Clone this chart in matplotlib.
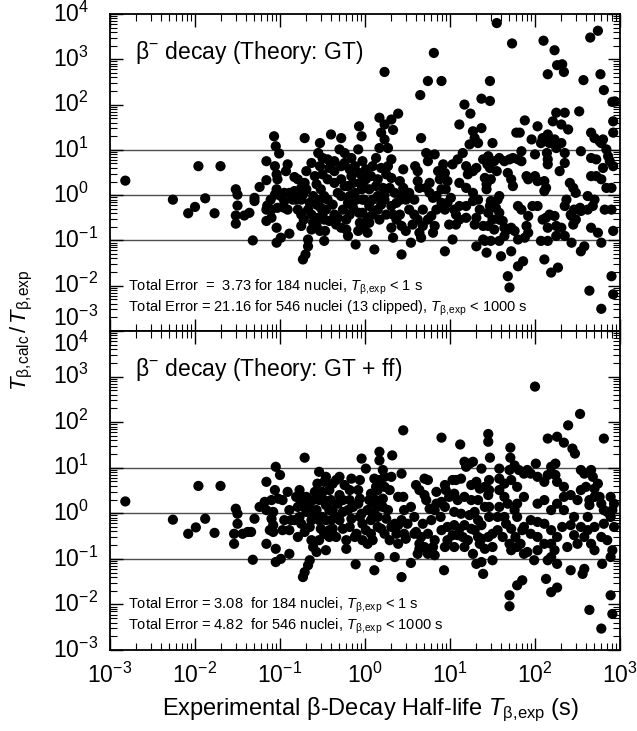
import numpy as np
import matplotlib
matplotlib.use("Agg")
import matplotlib.pyplot as plt
from matplotlib.ticker import LogLocator, NullFormatter
import matplotlib.transforms as mtransforms

plt.rcParams['font.family'] = ['Liberation Sans', 'DejaVu Sans']
plt.rcParams['mathtext.fontset'] = 'custom'
plt.rcParams['mathtext.rm'] = 'Liberation Sans'
plt.rcParams['mathtext.it'] = 'Liberation Sans:italic'
plt.rcParams['mathtext.bf'] = 'Liberation Sans:bold'

# ---------------- data (log10 values) ----------------
# Panel 1: Theory GT  -- log10(T_exp / s) and log10(T_calc / T_exp)
gt_log_t = [
    -2.82,-2.26,-2.08,-2.00,-1.88,-1.77,-1.96,-1.70,-1.52,-1.50,-1.50,-1.52,-1.52,
    -1.36,-1.42,-1.32,-1.30,-1.30,-1.24,-1.16,-1.16,-1.16,-1.15,
    -1.16,-1.11,-1.07,-1.05,-1.01,-1.06,-1.04,-1.03,-0.93,-1.04,
    -1.06,-1.10,-1.03,-0.95,-0.91,-1.04,-1.04,-0.99,-0.89,-0.99,
    -0.95,-0.91,-0.83,-0.79,-0.81,-0.79,-0.75,-0.72,-0.71,-0.63,
    -0.59,-0.69,-0.71,-0.69,-0.73,-0.65,-0.67,-0.63,-0.61,-0.63,
    -0.67,-0.67,-0.70,-0.73,-0.53,-0.55,-0.50,-0.53,-0.57,-0.52,
    -0.53,-0.57,-0.52,-0.55,-0.57,-0.53,-0.47,-0.40,-0.28,-0.30,
    -0.44,-0.36,-0.28,-0.36,-0.44,-0.36,-0.28,-0.24,-0.32,-0.44,
    -0.38,-0.46,-0.36,-0.42,-0.34,-0.26,-0.20,-0.22,-0.28,-0.24,
    -0.18,-0.16,-0.14,-0.12,-0.10,-0.14,-0.07,-0.04,-0.08,-0.03,
    -0.07,-0.01,-0.03,-0.07,-0.11,-0.22,
    -0.03,-0.04,0.01,-0.01,-0.03,0.03,-0.01,0.03,0.17,0.23,
    0.31,0.39,0.33,0.19,0.23,0.17,0.27,0.13,0.09,0.19,
    0.31,0.27,0.07,0.15,0.25,0.31,0.05,0.13,0.09,0.15,
    0.09,0.05,0.21,0.23,0.19,0.31,0.37,0.42,0.25,0.33,
    0.37,0.43,0.31,0.41,0.11,0.33,0.43,0.54,0.45,0.41,
    0.45,0.45,0.59,0.62,0.62,0.64,0.52,0.58,0.56,0.62,
    0.64,0.68,0.66,0.66,0.72,0.74,0.76,0.72,0.76,0.80,
    0.74,0.78,0.82,0.80,0.86,0.88,0.94,0.90,0.97,0.90,
    0.97,1.01,0.94,1.05,1.07,0.94,1.03,1.07,1.11,1.03,
    1.09,1.11,1.17,1.27,1.29,1.33,1.23,1.37,1.15,1.19,
    1.21,1.27,1.31,1.11,1.19,1.27,1.11,1.19,1.31,1.29,
    1.35,1.39,1.31,1.39,1.41,1.43,1.44,1.24,
    1.50,1.45,1.52,1.58,1.64,1.70,1.74,1.80,1.84,1.47,
    1.55,1.43,1.48,1.58,1.56,1.48,1.54,1.58,1.45,1.50,
    1.58,1.62,1.64,1.68,1.76,1.72,1.45,1.41,1.48,1.58,
    1.43,1.60,1.72,1.68,1.70,1.68,1.72,1.74,1.80,1.84,
    1.78,1.82,1.88,1.96,2.03,1.84,1.88,1.90,1.92,1.80,
    1.86,1.90,1.92,2.00,2.03,1.97,2.03,2.00,2.07,2.09,
    2.15,2.17,2.23,2.25,2.31,2.14,2.15,2.15,2.11,2.13,
    2.11,2.09,2.13,2.17,2.23,2.15,2.25,2.07,2.15,2.25,
    2.31,2.35,2.11,2.19,2.27,2.21,2.25,2.35,2.31,2.39,
    2.29,2.35,2.37,2.35,2.45,2.41,2.48,2.42,2.46,2.48,
    2.45,2.43,2.54,2.58,2.62,2.53,2.54,2.62,2.68,2.66,
    2.74,2.54,2.66,2.72,2.66,2.70,2.76,2.78,2.52,2.66,
    2.72,2.78,2.84,2.90,2.80,2.84,2.86,2.88,2.92,2.78,
    2.64,2.78,2.90,2.92,2.90,2.92,2.92,2.92,2.94,
    1.55,1.73,2.10,2.23,2.65,2.74,0.81,0.23,2.15,2.26,2.32,2.34,0.74,0.90,0.65,
    1.47,1.37,1.47,2.57,2.77,2.81,2.91,
    -0.75,-0.61,-0.48,-0.50,-0.42,-0.50,-0.28,-0.20,-0.18,-0.24,
    -0.16,-0.12,-0.06,-0.18,-0.32,-0.48,-0.75,-0.83,-0.89,-0.85,
    -0.95,-1.10,-0.75,-0.06,-0.08,-0.20,-0.48,
    0.01,0.05,0.15,0.17,0.23,0.29,0.35,0.48,0.52,0.58,
    0.68,0.48,0.84,0.84,0.95,0.92,0.82,0.99,1.19,1.33,
    1.27,1.39,
    1.47,1.52,1.64,1.80,1.92,2.21,2.35,2.43,2.70,2.82,2.80,
]
gt_log_ratio = [
    0.32,-0.10,-0.40,-0.26,-0.07,-0.40,0.64,0.64,0.13,0.01,-0.23,-0.45,-0.63,
    -0.39,-0.45,-1.00,-0.06,-0.13,0.18,0.75,0.33,-0.32,-0.23,
    -0.57,-0.10,1.30,1.08,0.92,0.64,0.46,0.35,0.53,0.13,
    0.01,-0.32,-0.28,-0.28,-0.32,-0.72,-1.05,-0.94,-0.85,-0.02,
    0.05,0.68,0.40,0.35,-0.10,-0.32,-0.43,-0.54,1.26,0.71,
    0.42,0.53,0.27,0.13,0.01,-0.17,-0.32,-0.43,-0.61,-0.76,
    -0.98,-1.13,-1.31,-1.42,1.15,0.93,0.82,0.64,0.24,0.13,
    -0.10,-0.21,-0.28,-0.50,-0.68,-0.79,-0.79,1.34,1.26,1.01,
    0.79,0.75,0.64,0.53,0.35,0.27,0.35,0.20,0.05,-0.10,
    -0.21,-0.32,-0.43,-0.57,-0.65,-0.32,-0.17,-0.54,-0.72,0.71,
    0.57,0.42,0.27,0.05,-0.10,-0.28,1.52,1.30,1.01,0.75,
    0.49,0.16,-0.10,-0.39,-1.09,-0.76,
    0.42,0.13,0.35,-0.10,-0.39,-0.50,-0.68,-0.83,1.71,1.56,
    1.67,1.80,1.44,1.38,1.23,1.04,1.04,0.82,0.64,0.60,
    0.79,0.64,0.42,0.35,0.46,0.38,0.13,0.20,-0.10,-0.32,
    -0.43,-0.61,0.16,0.01,-0.21,-0.24,-0.17,-0.10,-0.43,-0.43,
    -0.54,-0.68,-0.72,-0.43,-1.20,-0.94,-1.31,-1.05,0.57,0.31,
    0.16,0.01,0.64,0.53,0.31,0.16,-0.32,-0.43,-0.65,-0.54,
    -0.83,-0.68,-0.94,1.26,0.93,0.75,0.27,0.16,0.05,-0.06,
    -0.54,-0.46,-0.68,-0.83,0.53,0.35,0.49,0.13,0.31,-0.17,
    -0.17,-0.06,-0.32,-0.32,-0.43,-1.24,-0.98,-0.65,-0.54,0.68,
    0.79,1.56,2.00,1.41,1.26,1.15,1.12,1.48,0.93,0.64,
    0.46,0.53,0.60,0.27,0.16,0.05,-0.24,-0.24,-0.50,-0.65,
    -0.32,-0.68,-1.13,-0.98,0.38,0.13,0.68,1.80,
    1.15,0.86,0.75,0.82,0.75,0.79,0.82,0.79,0.75,0.60,
    0.53,0.24,0.35,-0.02,-0.10,-0.13,-0.28,-0.39,-0.39,-0.54,
    -0.54,-0.57,-0.72,-0.76,-0.79,-0.72,-0.68,-1.01,-1.01,-1.01,
    -1.27,-1.35,-1.24,-1.79,-2.04,0.49,0.35,0.20,-0.24,-0.32,
    1.38,1.38,1.65,1.23,1.52,0.97,-0.94,-0.68,-0.83,-1.57,
    -1.46,0.42,0.35,0.42,0.31,-0.24,-0.24,0.90,1.15,1.26,
    1.34,1.15,1.23,1.04,1.15,0.93,0.79,0.68,0.31,0.16,
    0.09,-0.54,-0.50,-0.43,-0.46,-0.72,-0.68,-1.01,-1.01,-0.90,
    -0.72,-0.90,-1.42,-1.71,-1.60,1.63,1.82,1.82,1.56,1.45,
    0.53,0.71,-0.10,-0.24,0.16,0.27,0.05,-0.43,-0.32,-0.54,
    -0.65,-1.05,-1.24,-1.13,-0.02,-0.28,-0.35,-0.32,-0.24,-0.72,
    -0.83,0.97,0.82,0.79,1.38,1.26,1.19,1.15,1.85,0.42,
    0.42,0.35,0.16,0.16,0.60,1.01,0.86,0.75,0.64,-1.05,
    -2.11,-2.51,-0.32,-0.79,-1.79,-2.19,1.38,1.63,2.07,
    3.80,3.35,3.41,3.20,3.48,3.63,3.14,2.72,2.67,2.87,2.89,2.72,2.52,2.52,2.21,
    2.52,2.13,2.08,2.54,2.67,2.32,2.06,
    -0.10,-0.02,-0.02,-0.43,0.60,0.46,-0.02,0.20,-0.02,0.93,
    0.82,0.64,0.27,-0.43,-0.50,-0.54,0.16,0.09,0.05,-0.10,
    -0.13,-0.50,-0.68,-0.61,-0.79,-0.90,-1.01,
    0.57,-0.24,-0.02,-0.54,-0.10,0.16,0.05,-0.10,0.05,-0.10,
    -0.32,-0.79,-0.32,-0.02,0.13,0.68,0.90,-0.65,-0.50,-0.10,
    -0.13,0.79,
    -0.24,-0.76,-0.90,-0.98,-0.46,1.15,0.93,-0.46,-0.10,-0.32,1.23,
]

# Panel 2: Theory GT + ff
ff_log_t = [
    -2.82,-2.26,-2.08,-1.99,-1.88,-1.77,-1.96,-1.70,-1.52,-1.50,-1.50,-1.54,-1.54,
    -1.44,-1.38,-1.34,-1.32,-1.30,-1.24,-1.18,-1.16,-1.16,-1.06,
    -1.05,-1.00,-1.02,-1.08,-1.10,-1.16,-1.05,-1.05,-0.99,-1.08,
    -1.12,-1.08,-0.97,-0.91,-0.95,-0.87,-0.89,-0.89,-0.81,-0.71,
    -0.77,-0.75,-0.79,-0.71,-0.77,-0.75,-0.79,-0.71,-0.69,-0.65,
    -0.65,-0.63,-0.65,-0.63,-0.61,-0.57,-0.65,-0.67,-0.71,-0.73,
    -0.59,-0.56,-0.54,-0.48,-0.50,-0.54,-0.57,-0.54,-0.52,-0.48,
    -0.50,-0.46,-0.42,-0.40,-0.38,-0.40,-0.38,-0.42,-0.46,-0.34,
    -0.30,-0.24,-0.30,-0.32,-0.26,-0.30,-0.26,-0.18,-0.20,-0.16,
    -0.18,-0.22,-0.12,-0.08,-0.06,-0.04,0.01,-0.11,-0.08,-0.04,
    -0.03,
    0.45,0.90,1.12,1.45,1.45,0.17,0.17,0.32,0.21,0.23,
    0.17,0.11,0.13,0.07,0.05,0.13,0.21,0.29,0.31,0.43,
    0.03,0.09,0.15,0.01,0.07,0.03,0.09,0.21,0.27,0.25,
    0.19,0.17,0.11,0.35,0.39,0.45,0.35,0.39,0.43,0.37,
    0.39,0.46,0.48,0.43,0.54,0.62,0.64,0.60,0.58,0.60,
    0.64,0.70,0.74,0.72,0.70,0.76,0.68,0.66,0.64,0.70,
    0.74,0.82,0.80,0.82,0.90,0.84,0.94,0.95,0.90,0.84,
    0.94,0.99,0.93,1.03,1.07,1.13,1.17,1.23,1.27,1.19,
    1.25,1.35,1.31,1.37,1.05,1.09,1.05,1.13,1.05,1.11,
    1.03,1.09,1.15,1.05,1.17,1.25,1.29,1.23,1.29,1.33,
    1.37,1.33,1.35,1.37,1.41,1.45,1.27,1.31,1.37,1.39,
    1.50,1.41,1.45,1.46,1.46,1.46,1.46,
    2.00,2.53,2.39,2.15,2.26,2.34,2.44,2.47,2.81,1.71,1.71,1.47,
    1.58,1.70,1.76,1.81,1.87,1.91,1.58,1.64,1.72,1.79,
    1.95,2.03,2.11,2.01,2.19,2.24,2.15,2.24,2.26,2.34,
    2.42,2.54,2.60,2.70,2.54,2.58,2.66,2.68,2.74,2.70,
    2.64,2.64,2.78,2.81,2.85,2.91,2.89,2.93,2.91,2.89,
    1.64,1.58,1.66,1.72,1.77,1.83,1.85,1.95,2.03,2.11,
    2.19,1.56,1.62,1.70,1.72,1.79,1.87,1.91,1.99,2.03,
    2.15,2.19,2.23,2.26,2.32,2.42,2.46,2.50,2.58,2.62,
    2.66,2.70,2.79,1.70,1.70,1.79,1.85,2.13,2.19,2.26,
    2.64,2.78,2.91,2.89,2.42,2.58,2.56,2.76,2.89,2.93,
    -0.73,-0.61,-0.59,-0.48,-0.42,-0.34,-0.46,-0.42,-0.34,-0.54,
    -0.26,-0.18,-0.14,-0.06,-0.10,-0.03,-0.22,-0.38,-0.46,-0.16,
    -0.06,-0.69,-0.83,-0.89,-0.97,-1.10,
    0.15,0.23,0.09,0.15,0.07,0.15,0.23,0.31,0.29,0.46,
    0.54,0.50,0.58,0.74,0.78,0.82,0.89,0.97,0.97,0.94,
    1.17,1.25,1.21,1.17,1.41,1.33,1.50,1.50,
    1.58,1.68,1.76,1.79,1.87,1.95,2.03,2.11,2.19,2.03,
    2.11,2.19,2.34,2.46,2.54,2.62,2.70,2.78,2.81,2.85,
    2.50,2.34,2.26,1.87,1.79,1.56,1.64,2.26,2.38,
]
ff_log_ratio = [
    0.26,-0.14,-0.45,-0.31,-0.12,-0.43,0.60,0.60,0.10,-0.01,-0.23,-0.45,-0.67,
    -0.45,-0.41,-0.41,-1.02,-0.12,0.14,0.25,0.07,0.69,0.51,
    1.02,0.84,0.32,0.03,-0.12,-0.67,-0.78,-1.07,-1.00,-0.26,
    -0.37,-0.41,0.29,0.47,-0.15,-0.15,-0.37,-0.89,0.36,1.22,
    0.51,0.29,0.14,0.14,-0.08,-0.23,-0.52,-0.41,0.36,0.21,
    0.03,-0.15,-0.30,-0.59,-0.74,-0.85,-1.03,-1.14,-1.29,-1.40,
    0.47,0.65,0.91,0.69,0.47,0.29,0.07,-0.15,-0.34,-0.45,
    -0.08,0.18,0.51,0.29,0.07,-0.15,-0.34,-0.52,-0.81,0.73,
    0.80,0.62,0.40,0.21,0.03,-0.15,-0.34,0.29,0.07,-0.12,
    -0.30,-0.78,-0.52,0.51,0.32,1.20,0.98,-1.12,0.21,-0.01,
    -0.23,
    1.82,1.66,1.51,1.74,1.57,1.35,1.16,1.27,0.95,0.80,
    0.73,0.76,0.58,0.43,0.29,0.29,0.32,0.51,0.80,0.87,
    0.07,-0.01,-0.08,-0.37,-0.45,-0.67,-0.59,0.14,0.07,-0.12,
    -0.34,-0.96,-1.25,-0.96,0.36,0.36,-0.23,-0.26,-0.15,-0.45,
    -0.67,-0.45,-0.56,-1.40,-1.09,-0.89,-0.67,-0.41,-0.08,0.62,
    0.51,0.76,0.73,0.29,0.40,0.10,-0.23,-0.52,-0.78,-0.74,
    -0.89,-0.59,-0.74,-0.92,-0.37,0.47,0.62,0.51,0.25,0.21,
    0.14,0.36,-1.25,0.73,0.73,0.76,1.13,1.09,1.13,1.02,
    0.62,0.54,0.69,0.98,0.43,0.29,0.03,-0.01,-0.26,-0.34,
    -0.48,-0.48,-0.52,-0.74,-0.26,-0.34,-0.37,-0.04,0.03,-0.15,
    -0.26,-0.52,-0.67,-0.56,-0.78,-0.52,-0.89,-1.11,-1.07,-1.33,
    -1.03,0.58,0.40,0.51,0.73,0.14,-0.08,
    2.78,2.18,1.93,1.64,1.68,1.55,1.42,1.31,1.64,1.44,1.22,1.22,
    0.98,0.95,1.05,0.95,0.87,0.95,0.76,0.65,0.73,0.58,
    0.87,0.80,0.69,1.09,1.02,1.09,0.84,0.84,0.69,0.58,
    0.40,0.51,0.58,0.54,0.95,0.87,0.95,0.80,0.65,0.36,
    0.29,0.18,0.21,0.07,0.03,0.07,-0.08,-0.30,-0.81,-0.96,
    0.36,0.14,-0.23,-0.34,-0.52,-0.67,-0.37,-0.15,-0.19,-0.23,
    -0.37,-0.37,-0.52,-0.67,-0.81,-0.74,-0.89,-0.85,-1.03,-0.81,
    -1.03,-0.96,-0.81,-0.52,-0.30,-0.26,-0.48,-0.67,-0.52,-0.37,
    -0.67,-0.81,-1.11,-1.80,-2.04,-1.58,-1.47,-1.44,-1.73,-1.63,
    -2.12,-2.53,-2.21,-1.80,-1.25,-1.22,-1.33,0.36,0.36,0.21,
    0.36,0.29,-0.04,0.29,0.07,-0.08,-0.15,-0.37,-0.52,-0.59,
    0.29,0.51,0.14,-0.08,-0.45,-0.59,-0.59,0.65,0.80,0.76,
    0.73,0.03,-0.15,0.07,-0.37,0.29,
    0.51,0.58,0.21,0.14,-0.15,-0.30,-0.45,-0.30,-0.59,0.07,
    0.14,-0.23,-0.45,-0.45,-0.15,0.07,-0.08,-0.30,-0.59,-0.74,
    0.36,0.29,-0.59,-0.74,0.14,0.29,-0.45,-0.74,
    0.51,0.21,0.07,-0.08,-0.30,-0.45,-0.52,-0.67,-0.67,0.21,
    0.29,0.07,0.07,-0.08,-0.30,-0.08,-0.30,-0.52,-0.23,-0.59,
    0.29,0.36,0.21,0.36,0.21,-0.08,-0.08,-1.11,-0.74,
]

SUB_EXP = r'$T_{\mathrm{β,\!exp}}$'
SUB_CALC = r'T_{\mathrm{β,\!calc}}'
titles = [r'$\mathrm{β}^{-}$ decay (Theory: GT)', r'$\mathrm{β}^{-}$ decay (Theory: GT + ff)']
error_lines = [
    ['Total Error  =  3.73 for 184 nuclei, ' + SUB_EXP + ' < 1 s',
     'Total Error = 21.16 for 546 nuclei (13 clipped), ' + SUB_EXP + ' < 1000 s'],
    ['Total Error = 3.08  for 184 nuclei, ' + SUB_EXP + ' < 1 s',
     'Total Error = 4.82  for 546 nuclei, ' + SUB_EXP + ' < 1000 s'],
]
ref_levels = [10.0, 1.0, 0.1]
y_exponents = list(range(-3, 5))

assert len(gt_log_t) == len(gt_log_ratio), (len(gt_log_t), len(gt_log_ratio))
assert len(ff_log_t) == len(ff_log_ratio), (len(ff_log_t), len(ff_log_ratio))

# ---------------- figure ----------------
W, H = 637, 731
fig = plt.figure(figsize=(W / 100, H / 100), dpi=100)
L = 110 / W; R = 620 / W
y_top = 1 - 14 / H; y_mid = 1 - 331 / H; y_bot = 1 - 650 / H
ax1 = fig.add_axes([L, y_mid, R - L, y_top - y_mid])
ax2 = fig.add_axes([L, y_bot, R - L, y_mid - y_bot])

panels = [(ax1, gt_log_t, gt_log_ratio), (ax2, ff_log_t, ff_log_ratio)]
for i, (ax, lt, lr) in enumerate(panels):
    t = 10.0 ** np.array(lt)
    r = 10.0 ** np.array(lr)
    ax.set_xscale('log'); ax.set_yscale('log')
    ax.set_xlim(1e-3, 1e3); ax.set_ylim(1e-3, 1e4)
    for lv in ref_levels:
        ax.axhline(lv, color='0.3', lw=1.0, zorder=1)
    ax.scatter(t, r, s=54, c='black', edgecolors='none', zorder=3)
    for spine in ax.spines.values():
        spine.set_linewidth(1.3)
    ax.xaxis.set_major_locator(LogLocator(base=10, numticks=20))
    ax.xaxis.set_minor_locator(LogLocator(base=10, subs=np.arange(2, 10), numticks=20))
    ax.yaxis.set_major_locator(LogLocator(base=10, numticks=20))
    ax.yaxis.set_minor_locator(LogLocator(base=10, subs=np.arange(2, 10), numticks=20))
    ax.xaxis.set_minor_formatter(NullFormatter())
    ax.yaxis.set_minor_formatter(NullFormatter())
    ax.tick_params(which='both', direction='in', top=True, right=True,
                   labelleft=False, labelbottom=(i == 1))
    ax.tick_params(which='major', length=9, width=1.0)
    ax.tick_params(which='minor', length=5, width=0.8)
    if i == 1:
        ax.tick_params(axis='x', labelsize=16.5, pad=9)

    # y tick labels drawn as left-aligned texts
    base = mtransforms.blended_transform_factory(ax.transAxes, ax.transData)
    for e in y_exponents:
        shift = 0.0
        if i == 0 and e == -3:
            shift = 13 / 100
        if i == 1 and e == 4:
            shift = -13 / 100
        tr = base + mtransforms.ScaledTranslation(0, shift, fig.dpi_scale_trans)
        ax.text(-57 / 510, 10.0 ** e, r'$10^{%d}$' % e, transform=tr,
                ha='left', va='center', fontsize=16.5, clip_on=False)

    ax.text(0.049, 0.88, titles[i], transform=ax.transAxes, fontsize=16.5,
            ha='left', va='center')
    ax.text(0.036, 0.139, error_lines[i][0], transform=ax.transAxes, fontsize=10.5,
            ha='left', va='center')
    ax.text(0.036, 0.073, error_lines[i][1], transform=ax.transAxes, fontsize=10.5,
            ha='left', va='center')

fig.text(0.035, 1 - 330 / H, '$' + SUB_CALC + r'\,/\,T_{\mathrm{β,\!exp}}$',
         rotation=90, fontsize=16, ha='center', va='center')
fig.text(0.582, 1 - 710 / H, 'Experimental β-Decay Half-life ' + SUB_EXP + ' (s)',
         fontsize=17, ha='center', va='center')

fig.savefig('out.png', dpi=100)
